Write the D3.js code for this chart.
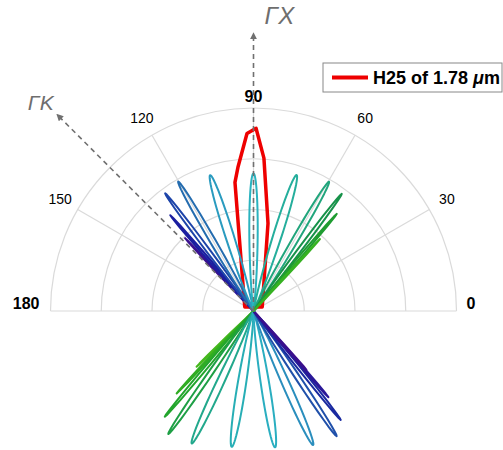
<!DOCTYPE html>
<html>
<head>
<meta charset="utf-8">
<script src="https://cdn.jsdelivr.net/npm/d3@7"></script>
<style>
  body { margin: 0; background: #fff; }
  svg { display: block; font-family: Arial, "Liberation Sans", sans-serif; }
</style>
</head>
<body>
<div id="chart"></div>
<script>
// grid / labels
const ringValues = [1, 2, 3, 4];
const spokeAngles = [0, 30, 60, 90, 120, 150, 180];
const angleLabels = ["0", "30", "60", "90", "120", "150", "180"];
const boldLabels = ["0", "90", "180"];

// lobes above the centre (angle in degrees, peak, spread in degrees)
const upperAngles = [133.2, 131, 126.9, 120.2, 107.7, 90, 72.4, 59.7, 53, 49.4, 47.3];
const upperPeaks = [1.97, 2.50, 2.90, 2.95, 2.81, 2.71, 2.81, 2.95, 2.89, 2.52, 1.93];
const upperSpread = [0.6, 0.8, 1.2, 1.8, 2.8, 2.9, 2.8, 1.9, 1.2, 0.8, 0.6];
const upperColors = ["#3a108e", "#1b1ea0", "#1d44a9", "#246caf", "#2a9bbf", "#2ab3bf",
  "#25ae9c", "#21a57c", "#17924a", "#1f9c31", "#36b121"];

// lobes below the centre
const lowerAngles = [224.4, 227, 230, 235.3, 245, 260.9, 279, 294, 303.6, 308.7, 311, 312];
const lowerPeaks = [1.57, 2.22, 2.72, 2.95, 2.88, 2.71, 2.72, 2.89, 2.96, 2.75, 2.25, 1.56];
const lowerSpread = [0.6, 0.7, 1.0, 1.5, 2.4, 2.9, 2.9, 2.4, 1.5, 1.0, 0.7, 0.6];
const lowerColors = ["#45b81c", "#30ac22", "#22a52c", "#1e9f45", "#22a88c", "#27aeb5",
  "#2aaec0", "#2a8ebd", "#2050aa", "#1a2aa0", "#2a1898", "#3a0f8c"];

// H25 harmonic (red)
const redAngles = [25, 80.6, 86.1, 89.2, 92.1, 96.1, 98.2, 155];
const redValues = [0.19, 1.75, 3.02, 3.6, 3.5, 2.86, 2.56, 0.19];

const arrowAngles = [90, 135];
const arrowNames = ["ΓX", "ΓK"];
const arrowLength = 5.48;

const width = 503;
const height = 450;
const cx = 253.5, cy = 311;

const rScale = d3.scaleLinear().domain([0, 4]).range([0, 203]);
const toRad = deg => (90 - deg) * Math.PI / 180; // d3 radial angle (clockwise from 12 o'clock)
const px = (deg, v) => rScale(v) * Math.cos(deg * Math.PI / 180);
const py = (deg, v) => -rScale(v) * Math.sin(deg * Math.PI / 180);

const svg = d3.select("#chart")
  .append("svg")
    .attr("width", width)
    .attr("height", height);

const defs = svg.append("defs");
defs.append("marker")
    .attr("id", "arrow")
    .attr("viewBox", "0 0 10 10")
    .attr("refX", 9).attr("refY", 5)
    .attr("markerWidth", 7).attr("markerHeight", 7)
    .attr("markerUnits", "userSpaceOnUse")
    .attr("orient", "auto")
  .append("path")
    .attr("d", "M0,0L10,5L0,10Z")
    .attr("fill", "#707070");

const g = svg.append("g")
    .attr("transform", `translate(${cx},${cy})`);

// rings (upper half)
const arc = d3.arc()
  .innerRadius(d => rScale(d))
  .outerRadius(d => rScale(d))
  .startAngle(-Math.PI / 2)
  .endAngle(Math.PI / 2);

g.selectAll(".ring")
  .data(ringValues)
  .enter()
  .append("path")
    .attr("class", "ring")
    .attr("d", arc)
    .attr("fill", "none")
    .attr("stroke", "#dadada")
    .attr("stroke-width", 1.2);

g.selectAll(".spoke")
  .data(spokeAngles)
  .enter()
  .append("line")
    .attr("x1", 0).attr("y1", 0)
    .attr("x2", d => px(d, 4))
    .attr("y2", d => py(d, 4))
    .attr("stroke", "#dadada")
    .attr("stroke-width", 1.2);

// angle labels
g.selectAll(".alabel")
  .data(spokeAngles)
  .enter()
  .append("text")
    .attr("class", "alabel")
    .attr("x", (d, i) => {
      if (d === 0) return rScale(4) + 10;
      if (d === 180) return -rScale(4) - 11;
      return px(d, 4.4);
    })
    .attr("y", (d, i) => {
      if (d === 0 || d === 180) return -8;
      if (d === 90) return py(d, 4.22);
      return py(d, 4.4);
    })
    .attr("dy", "0.35em")
    .attr("text-anchor", d => d === 0 ? "start" : d === 180 ? "end" : "middle")
    .attr("font-size", (d, i) => boldLabels.includes(angleLabels[i]) ? 16 : 14)
    .attr("font-weight", (d, i) => boldLabels.includes(angleLabels[i]) ? "bold" : "normal")
    .attr("fill", "#000")
    .text((d, i) => angleLabels[i]);

// red harmonic polygon
const redData = redAngles.map((a, i) => ({ angle: a, value: redValues[i] }));
const radialLine = d3.lineRadial()
  .angle(d => toRad(d.angle))
  .radius(d => rScale(d.value));

g.append("path")
  .datum(redData)
  .attr("d", radialLine.curve(d3.curveLinearClosed))
  .attr("fill", "none")
  .attr("stroke", "#ee0000")
  .attr("stroke-width", 3.5)
  .attr("stroke-linejoin", "round");

// lobes
function lobePoints(angle, peak, spread) {
  const n = 1 / Math.pow(spread * Math.PI / 180, 2);
  return d3.range(-90, 90.001, 0.2).map(delta => ({
    angle: angle + delta,
    value: peak * Math.pow(Math.cos(delta * Math.PI / 180), n)
  }));
}

const lobes = [];
lowerAngles.forEach((a, i) => lobes.push({ angle: a, peak: lowerPeaks[i], spread: lowerSpread[i], color: lowerColors[i] }));
upperAngles.forEach((a, i) => lobes.push({ angle: a, peak: upperPeaks[i], spread: upperSpread[i], color: upperColors[i] }));

const lobeLine = d3.lineRadial()
  .angle(d => toRad(d.angle))
  .radius(d => rScale(d.value))
  .curve(d3.curveLinearClosed);

g.selectAll(".lobe")
  .data(lobes)
  .enter()
  .append("path")
    .attr("class", "lobe")
    .attr("d", d => lobeLine(lobePoints(d.angle, d.peak, d.spread)))
    .attr("fill", "none")
    .attr("stroke", d => d.color)
    .attr("stroke-width", 2)
    .attr("stroke-linejoin", "round");

// direction arrows
g.selectAll(".arrow")
  .data(arrowAngles)
  .enter()
  .append("line")
    .attr("class", "arrow")
    .attr("x1", 0).attr("y1", 0)
    .attr("x2", d => px(d, arrowLength))
    .attr("y2", d => py(d, arrowLength))
    .attr("stroke", "#707070")
    .attr("stroke-width", 1.6)
    .attr("stroke-dasharray", "5,4")
    .attr("marker-end", "url(#arrow)");

g.selectAll(".arrowlabel")
  .data(arrowAngles)
  .enter()
  .append("text")
    .attr("x", (d, i) => i === 0 ? px(d, arrowLength) + 11 : px(d, arrowLength) - 29)
    .attr("y", (d, i) => i === 0 ? py(d, arrowLength) - 9 : py(d, arrowLength) - 4)
    .attr("font-size", (d, i) => i === 0 ? 24 : 21)
    .attr("font-style", "italic")
    .attr("fill", "#6e6e6e")
    .text((d, i) => arrowNames[i]);

// legend
const legend = svg.append("g").attr("transform", "translate(323,63)");
legend.append("rect")
  .attr("x", 0).attr("y", 0)
  .attr("width", 179).attr("height", 29)
  .attr("fill", "#fff")
  .attr("stroke", "#888")
  .attr("stroke-width", 1);
legend.append("line")
  .attr("x1", 9).attr("x2", 45)
  .attr("y1", 14.5).attr("y2", 14.5)
  .attr("stroke", "#ee0000")
  .attr("stroke-width", 4);
const lt = legend.append("text")
  .attr("x", 50).attr("y", 21)
  .attr("font-size", 18)
  .attr("font-weight", "bold")
  .attr("fill", "#000");
lt.append("tspan").text("H25 of 1.78 ");
lt.append("tspan").attr("font-style", "italic").text("μ");
lt.append("tspan").text("m");
</script>
</body>
</html>
